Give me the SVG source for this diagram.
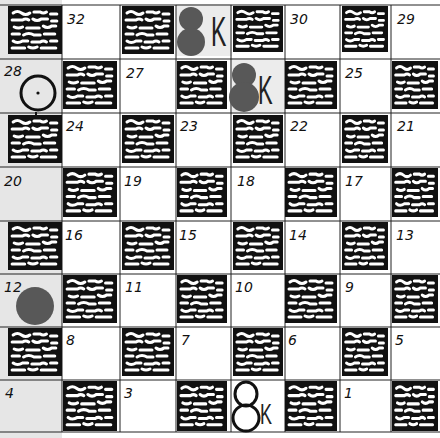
<svg xmlns="http://www.w3.org/2000/svg" width="440" height="438" viewBox="0 0 440 438">
<style>
.n{font-family:"DejaVu Sans","Liberation Sans",sans-serif;font-size:14px;fill:#111;font-style:italic}
.grid{stroke:#222;stroke-width:1;fill:none}
.bp{fill:#585858}
.wp{fill:none;stroke:#111;stroke-width:3}
.k{font-family:"Liberation Sans",sans-serif;fill:#222}
</style>
<defs>
<symbol id="h" viewBox="0 0 52 48" preserveAspectRatio="none">
<rect width="52" height="48" fill="#111"/>
<g fill="none" stroke="#fff" stroke-width="3" stroke-linecap="round">
<path d="M5 7 q4 -3 8 0 t8 0 M25 6 h6 q3 2 6 0 M41 8 h6"/>
<path d="M4 14 h10 q3 -2 6 0 M24 13 q4 3 8 0 h6 M42 15 h5"/>
<path d="M6 21 q4 2 8 0 M18 22 h12 M34 20 q4 3 8 0 h4"/>
<path d="M4 28 h7 M15 29 q5 -3 10 0 h6 M35 28 h10"/>
<path d="M5 35 q4 3 9 0 h5 M23 36 h8 q3 -2 6 0 M41 35 h6"/>
<path d="M4 42 h12 M20 41 q4 2 8 0 M32 42 h14"/>
</g>
</symbol>
</defs>
<rect width="440" height="438" fill="#fff"/>
<rect x="0" y="0" width="62" height="438" fill="#e6e6e6"/>
<rect x="176" y="4" width="56" height="52" fill="#ececec"/>
<rect x="230" y="58" width="55" height="56" fill="#ececec"/>
<g id="grid" class="grid">
<path d="M0 5 H440 M0 59 H440 M0 113 H440 M0 167 H440 M0 221 H440 M0 274 H440 M0 327 H440 M0 380 H440 M0 432 H440"/>
<path d="M62 5 V432 M120 5 V432 M176 5 V432 M231 5 V432 M285 5 V432 M340 5 V432 M391 5 V432"/>
</g>
<g id="dark-squares">
<use href="#h" x="8" y="6" width="54" height="48"/>
<use href="#h" x="122" y="6" width="52" height="48"/>
<use href="#h" x="233" y="6" width="50" height="46"/>
<use href="#h" x="342" y="6" width="46" height="46"/>
<use href="#h" x="63" y="61" width="54" height="48"/>
<use href="#h" x="177" y="61" width="50" height="48"/>
<use href="#h" x="285" y="61" width="52" height="48"/>
<use href="#h" x="392" y="61" width="46" height="48"/>
<use href="#h" x="8" y="115" width="54" height="48"/>
<use href="#h" x="122" y="115" width="52" height="48"/>
<use href="#h" x="233" y="115" width="50" height="48"/>
<use href="#h" x="342" y="115" width="46" height="48"/>
<use href="#h" x="63" y="168" width="54" height="49"/>
<use href="#h" x="177" y="168" width="50" height="49"/>
<use href="#h" x="285" y="168" width="52" height="49"/>
<use href="#h" x="392" y="168" width="46" height="49"/>
<use href="#h" x="8" y="222" width="54" height="48"/>
<use href="#h" x="122" y="222" width="52" height="48"/>
<use href="#h" x="233" y="222" width="50" height="48"/>
<use href="#h" x="342" y="222" width="46" height="48"/>
<use href="#h" x="63" y="275" width="54" height="48"/>
<use href="#h" x="177" y="275" width="50" height="48"/>
<use href="#h" x="285" y="275" width="52" height="48"/>
<use href="#h" x="392" y="275" width="46" height="48"/>
<use href="#h" x="8" y="328" width="54" height="48"/>
<use href="#h" x="122" y="328" width="52" height="48"/>
<use href="#h" x="233" y="328" width="50" height="48"/>
<use href="#h" x="342" y="328" width="46" height="48"/>
<use href="#h" x="63" y="381" width="54" height="50"/>
<use href="#h" x="177" y="381" width="50" height="50"/>
<use href="#h" x="285" y="381" width="52" height="50"/>
<use href="#h" x="392" y="381" width="46" height="50"/>
</g>
<g id="numbers">
<text class="n" x="67" y="24">32</text>
<text class="n" x="290" y="24">30</text>
<text class="n" x="397" y="24">29</text>
<text class="n" x="4" y="76">28</text>
<text class="n" x="126" y="78">27</text>
<text class="n" x="345" y="78">25</text>
<text class="n" x="66" y="131">24</text>
<text class="n" x="180" y="131">23</text>
<text class="n" x="290" y="131">22</text>
<text class="n" x="397" y="131">21</text>
<text class="n" x="4" y="186">20</text>
<text class="n" x="124" y="186">19</text>
<text class="n" x="237" y="186">18</text>
<text class="n" x="345" y="186">17</text>
<text class="n" x="65" y="240">16</text>
<text class="n" x="179" y="240">15</text>
<text class="n" x="289" y="240">14</text>
<text class="n" x="396" y="240">13</text>
<text class="n" x="4" y="292">12</text>
<text class="n" x="125" y="292">11</text>
<text class="n" x="235" y="292">10</text>
<text class="n" x="345" y="292">9</text>
<text class="n" x="66" y="345">8</text>
<text class="n" x="181" y="345">7</text>
<text class="n" x="288" y="345">6</text>
<text class="n" x="395" y="345">5</text>
<text class="n" x="5" y="398">4</text>
<text class="n" x="124" y="398">3</text>
<text class="n" x="344" y="398">1</text>
</g>
<g id="piece-31-black-king">
<circle class="bp" cx="191" cy="19" r="12"/>
<circle class="bp" cx="191" cy="42" r="14"/>
<text class="k" x="0" y="0" font-size="42" transform="translate(211 46) scale(0.55 1)">K</text>
</g>
<g id="piece-26-black-king">
<circle class="bp" cx="244" cy="75" r="12"/>
<circle class="bp" cx="244" cy="97" r="15"/>
<text class="k" x="0" y="0" font-size="40" transform="translate(258 104) scale(0.55 1)">K</text>
</g>
<g id="piece-2-white-king">
<ellipse class="wp" cx="246" cy="394" rx="11" ry="12"/>
<ellipse class="wp" cx="246" cy="418" rx="13" ry="13"/>
<text class="k" x="0" y="0" font-size="30" transform="translate(260 424) scale(0.6 1)">K</text>
</g>
<g id="piece-28-white">
<circle class="wp" cx="38" cy="93" r="17"/>
<circle cx="38" cy="93" r="1.6" fill="#111"/>
<path d="M36 112 v4" stroke="#111" stroke-width="2"/>
</g>
<g id="piece-12-black">
<circle class="bp" cx="35" cy="306" r="19"/>
</g>
</svg>
